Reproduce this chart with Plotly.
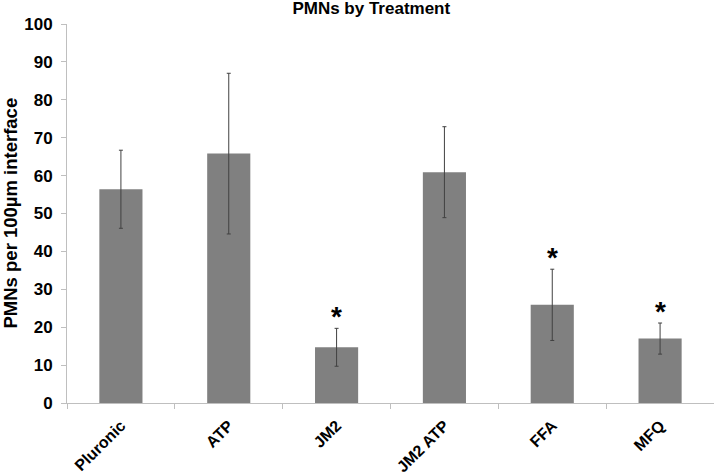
import plotly.graph_objects as go

# Data
treatments = ["Pluronic", "ATP", "JM2", "JM2 ATP", "FFA", "MFQ"]
pmn_means = [56.4, 65.8, 14.7, 60.9, 25.9, 17.0]
pmn_errors = [10.3, 21.2, 5.0, 12.0, 9.4, 4.1]
significant = [False, False, True, False, True, True]

FONT = "Liberation Sans, Arial, sans-serif"
AXIS_GRAY = "#bfbfbf"

fig = go.Figure()

fig.add_trace(
    go.Bar(
        x=treatments,
        y=pmn_means,
        width=0.4,
        marker=dict(color="#808080", line=dict(width=0)),
        error_y=dict(
            type="data",
            array=pmn_errors,
            visible=True,
            color="#404040",
            thickness=1,
            width=2,
        ),
        showlegend=False,
    )
)

# Significance asterisks above the error bars
for name, mean, err, sig in zip(treatments, pmn_means, pmn_errors, significant):
    if sig:
        fig.add_annotation(
            x=name,
            y=mean + err,
            text="<b>*</b>",
            showarrow=False,
            yanchor="bottom",
            yshift=-6,
            font=dict(family=FONT, size=28, color="black"),
        )

# Y axis title as a rotated annotation so the plot area stays put
fig.add_annotation(
    text="<b>PMNs per 100µm interface</b>",
    xref="paper",
    yref="paper",
    x=-57 / 647,
    y=0.5,
    xanchor="center",
    yanchor="middle",
    textangle=-90,
    showarrow=False,
    font=dict(family=FONT, size=18.5, color="black"),
)

fig.update_layout(
    width=714,
    height=476,
    margin=dict(l=67, r=0, t=24, b=73),
    plot_bgcolor="white",
    paper_bgcolor="white",
    font=dict(family=FONT, color="black"),
    title=dict(
        text="<b>PMNs by Treatment</b>",
        x=0.52,
        xanchor="center",
        y=1 - 8 / 476,
        yanchor="middle",
        font=dict(family=FONT, size=17, color="black"),
    ),
    bargap=0.6,
)

fig.update_xaxes(
    automargin=False,
    showline=True,
    linecolor=AXIS_GRAY,
    linewidth=1,
    ticks="outside",
    tickson="boundaries",
    ticklen=5,
    tickcolor=AXIS_GRAY,
    tickangle=-45,
    ticklabelstandoff=6,
    tickprefix="<b>",
    ticksuffix="</b>",
    tickfont=dict(family=FONT, size=16, color="black"),
    showgrid=False,
)

fig.update_yaxes(
    automargin=False,
    range=[0, 100],
    dtick=10,
    showline=True,
    linecolor=AXIS_GRAY,
    linewidth=1,
    ticks="outside",
    ticklen=5,
    tickcolor=AXIS_GRAY,
    ticklabelstandoff=5,
    showgrid=False,
    zeroline=False,
    tickprefix="<b>",
    ticksuffix="</b>",
    tickfont=dict(family=FONT, size=17, color="black"),
)

# drop the default page margin so the figure fills the window exactly
fig.write_html(
    "out.html",
    config={"displayModeBar": False},
    post_script="document.body.style.margin = '0';",
)
